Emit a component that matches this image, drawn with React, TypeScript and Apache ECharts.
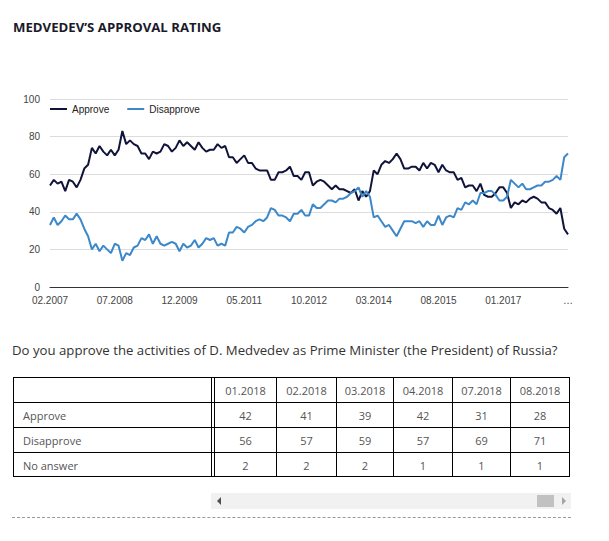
import React, { useEffect, useRef } from "react";
import * as echarts from "echarts";

// Monthly survey dates: 02.2007 … 04.2018, then 07.2018, 08.2018
const surveyMonths: string[] = (() => {
  const out: string[] = [];
  let y = 2007;
  let m = 2;
  while (y < 2018 || (y === 2018 && m <= 4)) {
    out.push(String(m).padStart(2, "0") + "." + y);
    m++;
    if (m > 12) {
      m = 1;
      y++;
    }
  }
  out.push("07.2018", "08.2018");
  return out;
})();

const approveValues = [
  54, 57, 55, 56, 51, 57, 56, 53, 57, 63,
  65, 74, 71, 75, 72, 70, 73, 70, 73, 83,
  76, 78, 76, 75, 71, 71, 68, 72, 71, 72,
  76, 75, 72, 74, 78, 75, 77, 75, 73, 77,
  74, 72, 73, 73, 76, 74, 75, 69, 69, 66,
  68, 70, 66, 66, 63, 62, 62, 62, 57, 57,
  61, 61, 62, 64, 59, 59, 57, 61, 61, 54,
  56, 57, 56, 54, 52, 54, 52, 52, 51, 50,
  52, 46, 51, 48, 51, 62, 60, 65, 67, 66,
  68, 71, 68, 63, 63, 64, 64, 62, 66, 63,
  66, 65, 61, 65, 62, 61, 61, 57, 58, 53,
  54, 54, 51, 55, 49, 48, 48, 50, 53, 53,
  50, 42, 45, 44, 46, 45, 47, 48, 47, 45,
  45, 42, 41, 39, 42, 31, 28,
];

const disapproveValues = [
  33, 37, 33, 35, 38, 36, 36, 39, 36, 31,
  27, 20, 23, 19, 22, 20, 18, 23, 22, 14,
  18, 17, 21, 22, 26, 25, 28, 23, 27, 23,
  22, 23, 24, 23, 19, 23, 21, 22, 25, 21,
  23, 26, 25, 26, 22, 23, 22, 29, 29, 32,
  31, 29, 32, 33, 35, 36, 35, 37, 42, 41,
  38, 38, 37, 35, 39, 39, 41, 38, 38, 44,
  42, 42, 44, 46, 46, 45, 47, 47, 48, 50,
  51, 53, 48, 51, 48, 37, 38, 35, 32, 33,
  30, 27, 31, 35, 35, 35, 34, 35, 32, 35,
  33, 33, 38, 33, 37, 38, 37, 42, 41, 45,
  44, 46, 44, 50, 50, 51, 51, 49, 46, 46,
  48, 57, 55, 53, 55, 52, 52, 53, 54, 54,
  56, 56, 57, 59, 57, 69, 71,
];

const yTicks = { min: 0, max: 100, interval: 20 };

const tableHeaders = ["01.2018", "02.2018", "03.2018", "04.2018", "07.2018", "08.2018"];
const rowLabels = ["Approve", "Disapprove", "No answer"];
const approveRow = [42, 41, 39, 42, 31, 28];
const disapproveRow = [56, 57, 59, 57, 69, 71];
const noAnswerRow = [2, 2, 2, 1, 1, 1];

const titleText = "MEDVEDEV’S APPROVAL RATING";
const questionText =
  "Do you approve the activities of D. Medvedev as Prime Minister (the President) of Russia?";

const COL_X = [13, 211, 214, 276, 336, 393, 452, 510, 569];
const ROW_Y = [377, 402, 427, 452, 476];

export default function App() {
  const ref = useRef<HTMLDivElement>(null);

  useEffect(() => {
    if (!ref.current) return;
    const chart = echarts.init(ref.current, null, { renderer: "svg" });
    const axisFont = 'Arial, "Liberation Sans", sans-serif';
    chart.setOption({
      animation: false,
      grid: { left: 50, right: 41, top: 99, height: 188 },
      legend: {
        left: 50,
        top: 104,
        padding: 0,
        icon: "rect",
        itemWidth: 17,
        itemHeight: 2,
        itemGap: 18,
        data: ["Approve", "Disapprove"],
        textStyle: { fontFamily: axisFont, fontSize: 10, color: "#222" },
      },
      xAxis: {
        type: "category",
        data: surveyMonths,
        boundaryGap: false,
        axisLine: { lineStyle: { color: "#333", width: 1 } },
        axisTick: { show: false },
        axisLabel: {
          interval: 16,
          margin: 8,
          fontFamily: axisFont,
          fontSize: 10,
          color: "#444",
          formatter: (v: string, idx: number) =>
            idx === surveyMonths.length - 1 ? "…" : v,
        },
        splitLine: { show: false },
      },
      yAxis: {
        type: "value",
        min: yTicks.min,
        max: yTicks.max,
        interval: yTicks.interval,
        axisLine: { show: false },
        axisTick: { show: false },
        axisLabel: { margin: 10, fontFamily: axisFont, fontSize: 10, color: "#444" },
        splitLine: { lineStyle: { color: "#dcdcdc", width: 1 } },
      },
      series: [
        {
          name: "Approve",
          type: "line",
          data: approveValues,
          showSymbol: false,
          symbol: "none",
          lineStyle: { color: "#10143a", width: 2 },
          itemStyle: { color: "#10143a" },
        },
        {
          name: "Disapprove",
          type: "line",
          data: disapproveValues,
          showSymbol: false,
          symbol: "none",
          lineStyle: { color: "#3c88c9", width: 2 },
          itemStyle: { color: "#3c88c9" },
        },
      ],
    });
    return () => chart.dispose();
  }, []);

  const rowsData = [approveRow, disapproveRow, noAnswerRow];
  const cellFont: React.CSSProperties = {
    position: "absolute",
    fontSize: 11,
    color: "#555",
    lineHeight: "25px",
    height: 25,
    whiteSpace: "nowrap",
  };

  const lines: React.ReactNode[] = [];
  ROW_Y.forEach((y, i) =>
    lines.push(
      <div
        key={"h" + i}
        style={{ position: "absolute", left: COL_X[0], top: y, width: COL_X[8] - COL_X[0] + 1, height: 1, background: "#000" }}
      />
    )
  );
  COL_X.forEach((x, i) =>
    lines.push(
      <div
        key={"v" + i}
        style={{ position: "absolute", left: x, top: ROW_Y[0], width: 1, height: ROW_Y[4] - ROW_Y[0] + 1, background: "#000" }}
      />
    )
  );

  const cells: React.ReactNode[] = [];
  tableHeaders.forEach((h, c) => {
    const l = COL_X[c + 2] + 1;
    const w = COL_X[c + 3] - COL_X[c + 2] - 1;
    cells.push(
      <div key={"th" + c} style={{ ...cellFont, left: l, top: ROW_Y[0] + 1, width: w, textAlign: "center" }}>
        {h}
      </div>
    );
  });
  rowLabels.forEach((lab, r) => {
    cells.push(
      <div key={"rl" + r} style={{ ...cellFont, left: COL_X[0] + 10, top: ROW_Y[r + 1] + 1 }}>
        {lab}
      </div>
    );
    rowsData[r].forEach((v, c) => {
      const l = COL_X[c + 2] + 1;
      const w = COL_X[c + 3] - COL_X[c + 2] - 1;
      cells.push(
        <div key={"c" + r + "_" + c} style={{ ...cellFont, left: l, top: ROW_Y[r + 1] + 1, width: w, textAlign: "center" }}>
          {v}
        </div>
      );
    });
  });

  return (
    <div
      style={{
        position: "absolute",
        left: 0,
        top: 0,
        width: 609,
        height: 541,
        background: "#fff",
        overflow: "hidden",
        fontFamily: '"Open Sans", sans-serif',
      }}
    >
      <div ref={ref} style={{ position: "absolute", left: 0, top: 0, width: 609, height: 320 }} />
      <div
        style={{
          position: "absolute",
          left: 13,
          top: 19,
          fontSize: 13.2,
          fontWeight: 700,
          color: "#1a1a2a",
          lineHeight: "16px",
          whiteSpace: "nowrap",
        }}
      >
        {titleText}
      </div>
      <div
        style={{
          position: "absolute",
          left: 12,
          top: 341,
          fontSize: 13.2,
          color: "#333",
          lineHeight: "18px",
          whiteSpace: "nowrap",
        }}
      >
        {questionText}
      </div>
      {lines}
      {cells}
      {/* horizontal scrollbar of the table */}
      <div style={{ position: "absolute", left: 211, top: 493, width: 360, height: 16, background: "#f1f1f1" }} />
      <div
        style={{
          position: "absolute",
          left: 217,
          top: 497,
          width: 0,
          height: 0,
          borderTop: "4px solid transparent",
          borderBottom: "4px solid transparent",
          borderRight: "4px solid #505050",
        }}
      />
      <div
        style={{
          position: "absolute",
          left: 562,
          top: 497,
          width: 0,
          height: 0,
          borderTop: "4px solid transparent",
          borderBottom: "4px solid transparent",
          borderLeft: "4px solid #a3a3a3",
        }}
      />
      <div style={{ position: "absolute", left: 537, top: 495, width: 17, height: 12, background: "#c1c1c1" }} />
      <div
        style={{
          position: "absolute",
          left: 12,
          top: 517,
          width: 559,
          height: 0,
          borderTop: "1px dashed #9a9a9a",
        }}
      />
    </div>
  );
}
